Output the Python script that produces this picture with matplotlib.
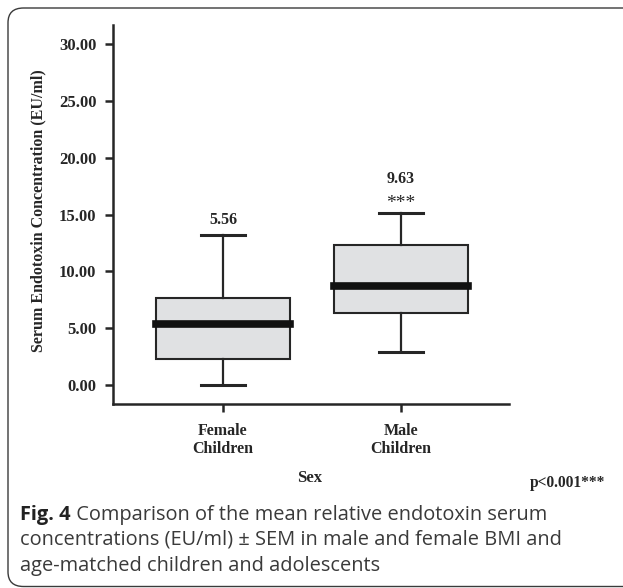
import matplotlib
matplotlib.use("Agg")
import matplotlib.pyplot as plt
from matplotlib.patches import FancyBboxPatch

# values
groups = ["Female\nChildren", "Male\nChildren"]
whisker_low = [0.0, 2.9]
q1 = [2.25, 6.35]
medians = [5.4, 8.7]
q3 = [7.65, 12.3]
whisker_high = [13.2, 15.15]
means = ["5.56", "9.63"]
stars = ["", "***"]
yticks = [0, 5, 10, 15, 20, 25, 30]

serif = "Liberation Serif"
ink = "#262626"

fig = plt.figure(figsize=(6.23, 5.88), dpi=100)
W, H = 623, 588

# rounded frame around the panel, running off the right edge
frame = FancyBboxPatch((8 / W, 1.5 / H), 700 / W, (580 - 1.5) / H,
                       boxstyle="round,pad=0,rounding_size=0.025",
                       transform=fig.transFigure, fill=False,
                       edgecolor="#3a3a3a", linewidth=1.0)
fig.patches.append(frame)

ax = fig.add_axes([113 / W, (H - 404) / H, (509 - 113) / W, (404 - 25) / H])

stats = []
for i in range(len(groups)):
    stats.append(dict(med=medians[i], q1=q1[i], q3=q3[i],
                      whislo=whisker_low[i], whishi=whisker_high[i],
                      fliers=[], label=groups[i]))

ax.bxp(stats, positions=range(len(groups)), widths=0.75, patch_artist=True,
       capwidths=0.25,
       boxprops=dict(facecolor="#e0e1e3", edgecolor=ink, linewidth=1.5),
       medianprops=dict(color="#111111", linewidth=5.5, solid_capstyle="projecting"),
       whiskerprops=dict(color=ink, linewidth=1.6),
       capprops=dict(color=ink, linewidth=2.2))

for i in range(len(groups)):
    if stars[i]:
        ax.annotate(stars[i], (i, whisker_high[i]), xytext=(0, 1),
                    textcoords="offset points", ha="center", va="bottom",
                    fontsize=14, family=serif, color=ink)
        ax.annotate(means[i], (i, whisker_high[i]), xytext=(0, 19),
                    textcoords="offset points", ha="center", va="bottom",
                    fontsize=11.5, family=serif, weight="bold", color=ink)
    else:
        ax.annotate(means[i], (i, whisker_high[i]), xytext=(0, 5),
                    textcoords="offset points", ha="center", va="bottom",
                    fontsize=11.5, family=serif, weight="bold", color=ink)

ax.set_xlim(-0.618, 1.607)
ax.set_ylim(-1.67, 31.7)
ax.set_yticks(yticks)
ax.set_yticklabels([f"{v:.2f}" for v in yticks], family=serif,
                   weight="bold", fontsize=12, color=ink)
ax.set_xticks(range(len(groups)))
ax.set_xticklabels(groups, family=serif, weight="bold", fontsize=11.5,
                   color=ink, linespacing=1.12)
ax.tick_params(axis="y", length=6, width=1.8, color=ink, pad=6)
ax.tick_params(axis="x", length=6, width=1.8, color=ink, pad=8)
for s in ["top", "right"]:
    ax.spines[s].set_visible(False)
for s in ["left", "bottom"]:
    ax.spines[s].set_linewidth(1.8)
    ax.spines[s].set_color(ink)

ax.set_ylabel("Serum Endotoxin Concentration (EU/ml)", family=serif,
              weight="bold", fontsize=11.5, color=ink)
ax.yaxis.set_label_coords(-0.168, 0.51)

fig.text(310 / W, 1 - 478 / H, "Sex", family=serif, weight="bold",
         fontsize=12, color=ink, ha="center", va="center")
fig.text(530 / W, 1 - 483 / H, "p<0.001***", family=serif, weight="bold",
         fontsize=11.2, color=ink, ha="left", va="center")

caption = [("Fig. 4", " Comparison of the mean relative endotoxin serum"),
           ("", "concentrations (EU/ml) \u00b1 SEM in male and female BMI and"),
           ("", "age-matched children and adolescents")]
ys = [515, 540, 566]
for (bold, rest), y in zip(caption, ys):
    x = 20 / W
    if bold:
        t = fig.text(x, 1 - y / H, bold, family="Open Sans", weight="bold",
                     fontsize=14.4, color="#222222", va="center")
        fig.canvas.draw()
        bb = t.get_window_extent()
        x = bb.x1 / fig.bbox.width
    fig.text(x, 1 - y / H, rest, family="Open Sans", fontsize=14.4,
             color="#3a3a3a", va="center")

fig.savefig("out.png", dpi=100)
